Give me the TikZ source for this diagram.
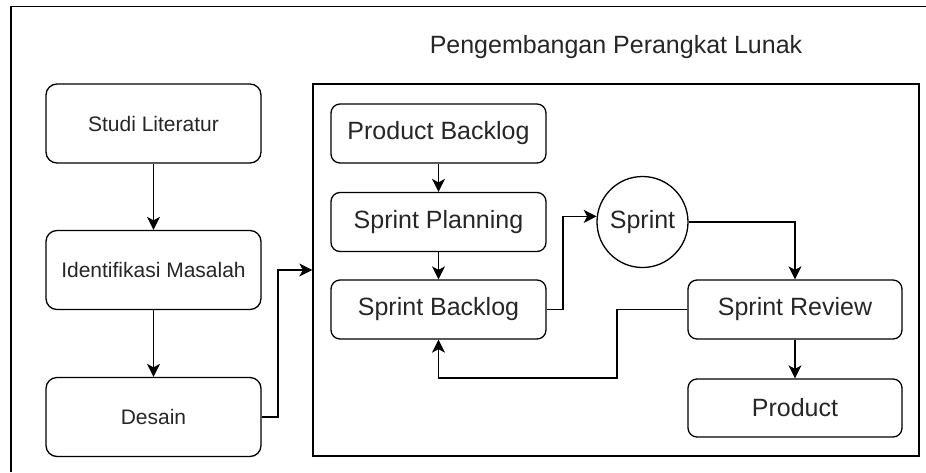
\documentclass[tikz,border=0pt]{standalone}
\usepackage{fontspec}
\setmainfont{Liberation Sans}
\usetikzlibrary{arrows.meta}
\begin{document}
\begin{tikzpicture}[x=1pt,y=-1pt,
  every node/.style={text=black!85},
  lbox/.style={draw, line width=1.3pt, rounded corners=11pt, minimum width=215pt,
    minimum height=79pt, inner sep=0pt, font=\fontsize{21}{25}\selectfont},
  ibox/.style={draw, line width=1.3pt, rounded corners=9pt, minimum width=215pt,
    minimum height=59pt, inner sep=0pt, font=\fontsize{25}{30}\selectfont},
  circ/.style={draw, line width=1.3pt, circle, minimum size=91pt, inner sep=0pt,
    font=\fontsize{25}{30}\selectfont},
  frame/.style={draw, line width=1.3pt, minimum width=606pt, minimum height=372pt, inner sep=0pt},
  arr/.style={line width=1.4pt, -{Stealth[length=13pt,width=13pt,inset=3.5pt]}}
]
\useasboundingbox (0,0) rectangle (926,472);

% outer page frame (top and left edges)
\draw[line width=1.3pt] (11,472) -- (11,6.5) -- (926,6.5);

% preparation steps
\node[lbox] (studi)  at (153.5,123.5) {Studi Literatur};
\node[lbox] (ident)  at (153.5,270)   {Identifikasi Masalah};
\node[lbox] (desain) at (153.5,417)   {Desain};

% software development block
\node[frame] (cont) at (616,270) {};
\node[font=\fontsize{25}{30}\selectfont] (title) at (616,47) {Pengembangan Perangkat Lunak};

\node[ibox] (pb) at (438.5,133.5) {Product Backlog};
\node[ibox] (sp) at (438.5,222)   {Sprint Planning};
\node[ibox] (sb) at (438.5,309.5) {Sprint Backlog};
\node[circ] (sprint) at (642.5,222) {Sprint};
\node[ibox, minimum width=214pt] (sr)   at (795,309.5) {Sprint Review};
\node[ibox, minimum width=214pt, minimum height=58pt] (prod) at (795,408) {Product};

% connectors
\draw[arr] (studi.south) -- (ident.north);
\draw[arr] (ident.south) -- (desain.north);
\coordinate (j1) at (278,0);
\draw[arr] (desain.east) -| (j1 |- cont.west) -- (cont.west);

\draw[arr] (pb.south) -- (sp.north);
\draw[arr] (sp.south) -- (sb.north);
\coordinate (j2) at (563,0);
\draw[arr] (sb.east) -| (j2 |- sprint.173) -- (sprint.173);
\draw[arr] (sprint.east) -| (sr.north);
\draw[arr] (sr.south) -- (prod.north);
\coordinate (k) at (617,378);
\draw[arr] (sr.west) -| (k) -| (sb.south);
\end{tikzpicture}
\end{document}
